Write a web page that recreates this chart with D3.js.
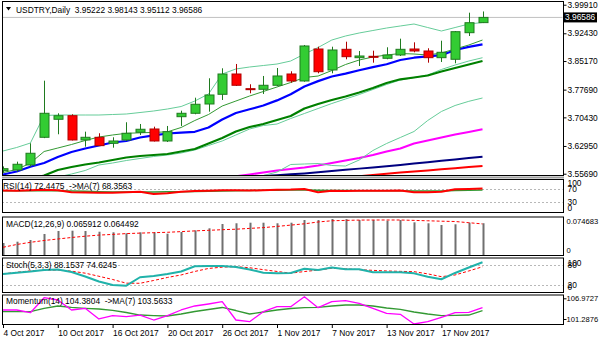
<!DOCTYPE html>
<html><head><meta charset="utf-8">
<script src="https://cdn.jsdelivr.net/npm/d3@7"></script>
<style>
html,body{margin:0;padding:0;background:#fff;}
svg{display:block;font-family:"Liberation Sans",Arial,sans-serif;}
text{white-space:pre;}
</style></head><body>
<svg id="chart" width="600" height="343"></svg>
<script>
// ---- USDTRY daily bars ----
const dates = ["2017-10-04","2017-10-05","2017-10-06","2017-10-09","2017-10-10","2017-10-11","2017-10-12","2017-10-13",
"2017-10-16","2017-10-17","2017-10-18","2017-10-19","2017-10-20","2017-10-23","2017-10-24","2017-10-25","2017-10-26",
"2017-10-27","2017-10-30","2017-10-31","2017-11-01","2017-11-02","2017-11-03","2017-11-06","2017-11-07","2017-11-08",
"2017-11-09","2017-11-10","2017-11-13","2017-11-14","2017-11-15","2017-11-16","2017-11-17","2017-11-20","2017-11-21","2017-11-22"];
const open  = [3.5650,3.5667,3.5798,3.6522,3.6993,3.7087,3.6452,3.6522,3.6365,3.6452,3.6653,3.6739,3.6425,3.7061,3.7150,3.7393,3.7647,3.8178,3.7794,3.7778,3.7883,3.8178,3.7995,3.8832,3.8283,3.8824,3.8605,3.8641,3.8589,3.8675,3.8832,3.8780,3.8605,3.8563,3.9259,3.95222];
const high  = [3.5760,3.5884,3.6365,3.8003,3.7150,3.7124,3.6669,3.6627,3.6522,3.6915,3.6870,3.6800,3.6818,3.7218,3.7558,3.8066,3.8327,3.8440,3.7909,3.8126,3.8335,3.8249,3.8937,3.8892,3.8892,3.9023,3.8780,3.8788,3.8877,3.9102,3.9007,3.8851,3.9049,3.9303,3.9782,3.98143];
const low   = [3.5600,3.5622,3.5753,3.6500,3.6601,3.6439,3.6276,3.6295,3.6250,3.6425,3.6582,3.6412,3.6399,3.6818,3.7124,3.7192,3.7498,3.7864,3.7673,3.7655,3.7864,3.7951,3.7977,3.8196,3.8196,3.8563,3.8387,3.8474,3.8563,3.8649,3.8746,3.8474,3.8492,3.8458,3.9172,3.95112];
const close = [3.5700,3.5816,3.6104,3.7150,3.7087,3.6452,3.6522,3.6303,3.6425,3.6627,3.6732,3.6425,3.6669,3.7150,3.7386,3.7629,3.8178,3.7883,3.7778,3.7883,3.8126,3.7995,3.8911,3.8238,3.8806,3.8631,3.8649,3.8623,3.8675,3.8824,3.8780,3.8605,3.8746,3.9285,3.9520,3.96586];

// ---- overlays on the price window ----
const bandUpper = [3.6163,3.6255,3.6372,3.7092,3.7105,3.7105,3.7105,3.7105,3.7118,3.7131,3.7170,3.7210,3.7262,3.7327,3.7471,3.7654,3.8178,3.8309,3.8361,3.8400,3.8439,3.8518,3.8701,3.8871,3.9067,3.9172,3.9251,3.9316,3.9381,3.9434,3.9486,3.9394,3.9303,3.9394,3.9486,3.9525];
const bandLower = [null,null,null,null,null,null,null,null,null,null,null,null,null,null,null,null,null,3.5378,3.5483,3.5522,3.5613,3.5810,3.5823,3.5836,3.5784,3.5770,3.5927,3.6176,3.6359,3.6516,3.6673,3.6961,3.7197,3.7354,3.7463,3.7550];
const maFastThin = [3.5600,3.5679,3.5849,3.6150,3.6241,3.6333,3.6438,3.6529,3.6582,3.6626,3.6639,3.6650,3.6665,3.6778,3.6961,3.7118,3.7340,3.7471,3.7602,3.7720,3.7838,3.7955,3.8086,3.8125,3.8269,3.8426,3.8544,3.8623,3.8675,3.8714,3.8701,3.8675,3.8727,3.8832,3.8937,3.9067];
const maBlue = [3.5548,3.5627,3.5750,3.5849,3.6006,3.6137,3.6228,3.6307,3.6385,3.6425,3.6516,3.6574,3.6621,3.6644,3.6665,3.6778,3.6987,3.7157,3.7254,3.7354,3.7487,3.7649,3.7851,3.7992,3.8112,3.8188,3.8275,3.8358,3.8432,3.8544,3.8604,3.8641,3.8670,3.8806,3.8887,3.8955];
const maGreen = [3.5247,3.5326,3.5417,3.5522,3.5666,3.5744,3.5810,3.5862,3.5927,3.5993,3.6032,3.6058,3.6084,3.6150,3.6215,3.6359,3.6503,3.6673,3.6791,3.6869,3.6974,3.7079,3.7275,3.7393,3.7497,3.7589,3.7694,3.7811,3.7942,3.8039,3.8086,3.8138,3.8243,3.8335,3.8426,3.8518];
const maMidThin = [3.5090,3.5195,3.5300,3.5404,3.5483,3.5561,3.5653,3.5797,3.5849,3.5914,3.5967,3.6019,3.6058,3.6111,3.6189,3.6307,3.6425,3.6582,3.6739,3.6830,3.6869,3.7013,3.7144,3.7275,3.7406,3.7524,3.7641,3.7772,3.7903,3.8021,3.8086,3.8152,3.8296,3.8413,3.8518,3.8604];
const maMagenta = [null,null,null,null,null,null,null,null,null,null,null,null,null,null,null,null,3.5457,3.5504,3.5548,3.5600,3.5653,3.5692,3.5731,3.5784,3.5849,3.5914,3.5980,3.6058,3.6150,3.6228,3.6359,3.6438,3.6516,3.6595,3.6660,3.6731];
const maNavy = [null,null,null,null,null,null,null,null,null,null,null,null,null,null,null,null,null,null,3.5470,3.5509,3.5530,3.5553,3.5577,3.5608,3.5640,3.5671,3.5702,3.5734,3.5765,3.5797,3.5833,3.5870,3.5907,3.5943,3.5980,3.6014];
const maRed = [null,null,null,null,null,null,null,null,null,null,null,null,null,null,null,null,null,null,null,null,null,null,null,null,null,3.5470,3.5501,3.5535,3.5566,3.5598,3.5627,3.5655,3.5684,3.5713,3.5742,3.5770];

// ---- oscillators ----
const rsi   = [66.2,65.8,67.4,68.6,67.1,60.9,60.3,59.7,59.7,61.2,62.8,55.7,57.8,62.8,64.9,65.8,67.4,67.1,66.5,67.4,68.9,69.5,71.1,60.9,65.8,65.2,65.8,65.5,65.8,66.5,61.2,60.9,62.5,70.2,71.1,72.4475];
const rsiMa = [65.8,65.8,65.8,65.8,65.8,64.9,64.0,62.8,62.2,61.8,61.8,62.2,62.5,62.8,63.4,64.0,64.9,65.5,66.5,67.1,67.4,68.0,68.0,67.4,66.8,66.2,65.8,65.8,65.5,65.8,65.2,64.9,64.9,66.2,67.1,68.3563];
const macd   = [0.0249,0.0276,0.0311,0.0436,0.0498,0.0504,0.0498,0.0483,0.0471,0.0450,0.0471,0.0471,0.0442,0.0477,0.0512,0.0554,0.0643,0.0658,0.0670,0.0670,0.0658,0.0670,0.0726,0.0726,0.0747,0.0745,0.0726,0.0726,0.0712,0.0726,0.0678,0.0658,0.0622,0.0637,0.0670,0.065912];
const macdSig = [0.0160,0.0218,0.0263,0.0301,0.0332,0.0363,0.0390,0.0413,0.0427,0.0444,0.0454,0.0463,0.0471,0.0485,0.0500,0.0512,0.0525,0.0535,0.0552,0.0568,0.0593,0.0620,0.0647,0.0685,0.0710,0.0718,0.0724,0.0726,0.0726,0.0726,0.0718,0.0710,0.0701,0.0695,0.0670,0.064492];
const stochK = [53.1,56.7,60.3,65.1,66.6,59.1,45.6,30.6,20.1,18.0,43.2,47.1,53.1,60.6,76.2,77.1,77.1,74.1,66.6,56.7,55.2,56.1,68.7,65.1,72.6,67.5,67.2,58.2,58.2,58.2,54.9,44.7,37.2,56.1,72.6,88.1537];
const stochD = [53.1,58.2,62.4,64.2,65.1,61.5,55.5,46.2,36.6,25.5,25.2,33.6,42.6,50.1,60.6,69.6,73.5,75.0,71.7,66.0,60.6,55.5,60.3,64.8,70.2,68.4,66.0,63.9,62.1,60.9,60.0,53.4,45.0,50.1,62.1,74.6245];
const momentum = [103.76,103.76,103.02,107.14,106.51,103.76,104.23,101.29,102.19,101.92,102.38,101.01,102.19,103.76,104.86,105.41,106.04,101.01,100.54,103.29,104.67,104.67,107.41,104.39,106.04,106.31,105.60,104.23,102.85,102.58,99.91,100.54,101.75,103.02,103.13,104.3804];
const momentumMa = [103.29,103.29,103.29,104.23,104.86,104.50,104.23,104.03,103.68,103.07,102.38,102.22,102.11,102.66,103.35,103.90,104.45,103.62,102.66,103.21,103.76,104.17,104.42,104.50,104.86,105.13,105.13,104.86,104.31,103.95,103.21,102.66,102.22,102.28,102.38,103.5633];

// ---- axis labels ----
const priceTicks = [3.99910,3.92430,3.85170,3.77690,3.70430,3.62950,3.55690];
const rsiTicks = [100,70,30,0];
const rsiLevels = [70,30];
const macdTicks = [0.074683,0];
const stochTicks = [100,80,20,0];
const stochLevels = [80,20];
const momentumTicks = [106.9727,101.2876];
const dateTicks = ["2017-10-04","2017-10-10","2017-10-16","2017-10-20","2017-10-26","2017-11-01","2017-11-07","2017-11-13","2017-11-17"];
const dateLabels = ["4 Oct 2017","10 Oct 2017","16 Oct 2017","20 Oct 2017","26 Oct 2017","1 Nov 2017","7 Nov 2017","13 Nov 2017","17 Nov 2017"];
const lastPrice = 3.96586;

const FS = 8.4;
const svg = d3.select("#chart");
const L = 2, R = 563;
const panels = {
  main:  {top: 1,     bottom: 176},
  rsi:   {top: 179,   bottom: 213},
  macd:  {top: 216.5, bottom: 256},
  stoch: {top: 257.5, bottom: 293},
  mom:   {top: 294.5, bottom: 325}
};

const x = d3.scalePoint().domain(dates).range([3, 482.5]);
const yMain  = d3.scaleLinear().domain([3.5509, 4.0088]).range([176, 1]);
const yRsi   = d3.scaleLinear().domain([0, 100]).range([212.1, 179.6]);
const yMacd  = d3.scaleLinear().domain([0, 0.074683]).range([255, 219]);
const yStoch = d3.scaleLinear().domain([0, 100]).range([291.7, 258.3]);
const yMom   = d3.scaleLinear().domain([101.2876, 106.9727]).range([319, 298.3]);

svg.append("rect").attr("width",600).attr("height",343).attr("fill","#fff");

// clip regions for each window
const defs = svg.append("defs");
Object.entries(panels).forEach(([k,p]) => {
  defs.append("clipPath").attr("id","clip-"+k)
    .append("rect").attr("x",L+0.5).attr("y",p.top+0.5).attr("width",R-L-1).attr("height",p.bottom-p.top-1);
});
const layer = k => svg.append("g").attr("clip-path",`url(#clip-${k})`);

function drawLine(g, data, y, color, width, dash) {
  const line = d3.line().defined(d => d != null).x((d,i) => x(dates[i])).y(d => y(d));
  g.append("path").attr("d", line(data)).attr("fill","none").attr("stroke",color)
    .attr("stroke-width",width).attr("stroke-linejoin","round")
    .attr("stroke-dasharray", dash || null);
}
function levelLine(g, v, y) {
  g.append("line").attr("x1",L).attr("x2",R).attr("y1",Math.round(y(v))+0.5).attr("y2",Math.round(y(v))+0.5)
    .attr("stroke","#b8b8b8").attr("stroke-width",1).attr("stroke-dasharray","2,2");
}

// ---- price window ----
const gm = layer("main");
gm.append("line").attr("x1",L).attr("x2",R).attr("y1",yMain(lastPrice)).attr("y2",yMain(lastPrice))
  .attr("stroke","#c0c0c0").attr("stroke-width",1);
drawLine(gm, maRed, yMain, "#ff0000", 2);
drawLine(gm, maNavy, yMain, "#000080", 2);
drawLine(gm, maMagenta, yMain, "#ff00ff", 2);
drawLine(gm, bandLower, yMain, "#66cc99", 1);
drawLine(gm, bandUpper, yMain, "#66cc99", 1);
drawLine(gm, maMidThin, yMain, "#66cc99", 1);
drawLine(gm, maGreen, yMain, "#008000", 2.2);
drawLine(gm, maBlue, yMain, "#0000ff", 2.2);
drawLine(gm, maFastThin, yMain, "#339933", 1);

const bw = 9;
const candles = gm.selectAll("g.c").data(dates).join("g").attr("class","c");
candles.each(function(d,i){
  const g = d3.select(this);
  const up = close[i] >= open[i];
  const cx = Math.round(x(d)) + 0.5;
  const wickCol = up ? "#1f7a1f" : "#b00000";
  g.append("line").attr("x1",cx).attr("x2",cx).attr("y1",yMain(high[i])).attr("y2",yMain(low[i]))
    .attr("stroke",wickCol).attr("stroke-width",1);
  const yt = yMain(Math.max(open[i],close[i])), yb = yMain(Math.min(open[i],close[i]));
  const h = Math.max(1, yb - yt);
  g.append("rect").attr("x",cx - bw/2).attr("y",yt).attr("width",bw).attr("height",h)
    .attr("fill", up ? "#33cc33" : "#ff0000").attr("stroke",wickCol).attr("stroke-width",1);
});

// ---- RSI window ----
const gr = layer("rsi");
rsiLevels.forEach(v => levelLine(gr, v, yRsi));
drawLine(gr, rsiMa, yRsi, "#339933", 1.5);
drawLine(gr, rsi, yRsi, "#ff0000", 2);

// ---- MACD window ----
const gc = layer("macd");
gc.selectAll("rect.h").data(macd).join("rect").attr("class","h")
  .attr("x",(d,i)=>Math.round(x(dates[i]))-0.5).attr("width",2)
  .attr("y",d=>yMacd(d)).attr("height",d=>yMacd(0)-yMacd(d)).attr("fill","#707070");
drawLine(gc, macdSig, yMacd, "#ff0000", 1, "3,2");

// ---- Stochastic window ----
const gs = layer("stoch");
stochLevels.forEach(v => levelLine(gs, v, yStoch));
drawLine(gs, stochD, yStoch, "#ff0000", 1, "3,2");
drawLine(gs, stochK, yStoch, "#20b2aa", 2);

// ---- Momentum window ----
const go = layer("mom");
drawLine(go, momentumMa, yMom, "#339933", 1.3);
drawLine(go, momentum, yMom, "#ff00ff", 1.3);

// ---- window frames ----
Object.values(panels).forEach(p => {
  svg.append("rect").attr("x",L+0.5).attr("y",p.top+0.5).attr("width",R-L).attr("height",p.bottom-p.top-1)
    .attr("fill","none").attr("stroke","#000").attr("stroke-width",1);
});
svg.append("rect").attr("x",L).attr("y",176.5).attr("width",R-L+1).attr("height",2).attr("fill","#a0a0a0");

// ---- right-hand axes ----
function rightAxis(scale, ticks, fmt, p, margin, fs) {
  const g = svg.append("g").attr("transform",`translate(${R+0.5},0)`)
    .call(d3.axisRight(scale).tickValues(ticks).tickSize(3).tickPadding(fs < FS ? 0 : 1).tickFormat(fmt));
  g.select(".domain").remove();
  g.selectAll(".tick line").attr("stroke","#000");
  g.selectAll(".tick text").attr("fill","#000").attr("font-size",fs || FS).attr("font-family",'"Liberation Sans",Arial,sans-serif');
  if (margin != null) {
    g.selectAll(".tick").attr("transform", d => {
      const yy = Math.min(Math.max(scale(d), p.top + margin), p.bottom - margin);
      return `translate(0,${yy})`;
    });
    g.selectAll(".tick line").remove();
  }
  return g;
}
rightAxis(yMain, priceTicks, d3.format(".5f"), panels.main, null);
rightAxis(yRsi, rsiTicks, d3.format("d"), panels.rsi, 4.5);
rightAxis(yMacd, macdTicks, d => d === 0 ? "0" : d3.format(".6f")(d), panels.macd, 5, 7.6);
rightAxis(yStoch, stochTicks, d3.format("d"), panels.stoch, 5.5);
rightAxis(yMom, momentumTicks, d3.format(".4f"), panels.mom, null, 7.6);

// last price tag
const ty = yMain(lastPrice);
svg.append("rect").attr("x",564).attr("y",ty-5).attr("width",33).attr("height",10).attr("fill","#000");
svg.append("text").attr("x",565).attr("y",ty+3).attr("fill","#fff").attr("font-size",FS).text(d3.format(".5f")(lastPrice));

// ---- date axis ----
const gx = svg.append("g").attr("transform",`translate(0,${panels.mom.bottom})`)
  .call(d3.axisBottom(x).tickValues(dateTicks).tickSize(3).tickPadding(2).tickFormat((d,i)=>dateLabels[i]));
gx.select(".domain").remove();
gx.selectAll(".tick line").attr("stroke","#000");
gx.selectAll(".tick text").attr("fill","#000").attr("font-size",FS).attr("text-anchor","start")
  .attr("font-family",'"Liberation Sans",Arial,sans-serif');

// ---- window captions ----
const cap = (tx, ty2, s) => svg.append("text").attr("x",tx).attr("y",ty2).attr("font-size",FS).attr("fill","#000").text(s);
svg.append("path").attr("d","M6,7 L11,7 L8.5,10.5 Z").attr("fill","#000");
cap(16, 12.5, "USDTRY,Daily  3.95222 3.98143 3.95112 3.96586");
cap(3, 189, "RSI(14) 72.4475  ->MA(7) 68.3563");
cap(6, 226.5, "MACD(12,26,9) 0.065912 0.064492");
cap(6, 268, "Stoch(5,3,3) 88.1537 74.6245");
cap(6, 304, "Momentum(14) 104.3804  ->MA(7) 103.5633");
</script>
</body></html>
